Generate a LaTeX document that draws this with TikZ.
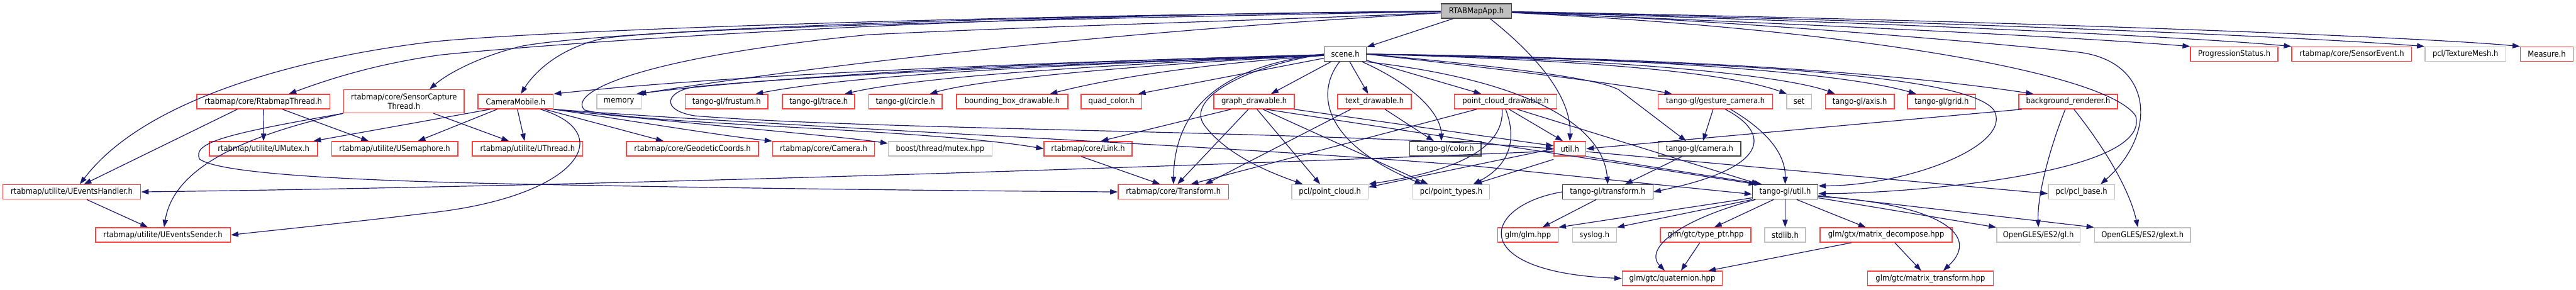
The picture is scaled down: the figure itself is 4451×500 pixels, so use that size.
\documentclass[tikz,border=0pt]{standalone}
\usepackage{xcolor}
\usepackage{fontspec}
\setmainfont{DejaVu Sans Condensed}
\usepackage{tikz}
\usetikzlibrary{arrows.meta}
\definecolor{edgeblue}{HTML}{191970}
\definecolor{boxred}{HTML}{FF4040}
\definecolor{boxgray}{HTML}{BFBFBF}
\definecolor{boxblack}{HTML}{404040}

\begin{document}
\begin{tikzpicture}[x=1pt, y=-1pt]
  \tikzset{
    file/.style={rectangle, line width=1.6pt, minimum height=25pt, inner sep=0pt, align=center, fill=white, font=\fontsize{14}{16}\selectfont},
    redfile/.style={file, draw=boxred},
    grayfile/.style={file, draw=boxgray},
    blackfile/.style={file, draw=boxblack},
    dep/.style={draw=edgeblue, line width=1.3pt, -{Triangle[length=13pt, width=9pt]}}
  }
  \useasboundingbox (0,0) rectangle (4451,500);
  % row 0 and 1
  \node[blackfile, fill=boxgray, minimum width=122pt] (app) at (2551,19) {RTABMapApp.h};
  \node[blackfile, minimum width=73pt] (scene) at (2324.5,93.5) {scene.h};
  \node[redfile, minimum width=151pt] (progress) at (3860.5,93.5) {ProgressionStatus.h};
  \node[redfile, minimum width=207pt] (sensorevent) at (4063.5,93.5) {rtabmap/core/SensorEvent.h};
  \node[grayfile, minimum width=140pt] (texmesh) at (4260,93.5) {pcl/TextureMesh.h};
  \node[redfile, minimum width=91pt] (measure) at (4400.5,93.5) {Measure.h};
  % row 2
  \node[redfile, minimum width=230pt] (rtthread) at (455,175.5) {rtabmap/core/RtabmapThread.h};
  \node[redfile, minimum width=208pt, minimum height=40pt] (scthread) at (698,175) {rtabmap/core/SensorCapture\\Thread.h};
  \node[redfile, minimum width=130pt] (cammobile) at (891,175.5) {CameraMobile.h};
  \node[grayfile, minimum width=77pt] (memory) at (1069.5,175.5) {memory};
  \node[redfile, minimum width=143pt] (frustum) at (1255.5,175.5) {tango-gl/frustum.h};
  \node[redfile, minimum width=125pt] (trace) at (1414.5,175.5) {tango-gl/trace.h};
  \node[redfile, minimum width=127pt] (circle) at (1564.5,175.5) {tango-gl/circle.h};
  \node[redfile, minimum width=192pt] (bbox) at (1749,175.5) {bounding\_box\_drawable.h};
  \node[redfile, minimum width=105pt] (quad) at (1920.5,175.5) {quad\_color.h};
  \node[redfile, minimum width=139pt] (graph) at (2167,175.5) {graph\_drawable.h};
  \node[redfile, minimum width=127pt] (textd) at (2375,175.5) {text\_drawable.h};
  \node[redfile, minimum width=177pt] (pcd) at (2601.5,175.5) {point\_cloud\_drawable.h};
  \node[redfile, minimum width=198pt] (gesture) at (2964,175.5) {tango-gl/gesture\_camera.h};
  \node[grayfile, minimum width=43pt] (set) at (3108.5,175.5) {set};
  \node[redfile, minimum width=119pt] (axis) at (3213.5,175.5) {tango-gl/axis.h};
  \node[redfile, minimum width=118pt] (grid) at (3355,175.5) {tango-gl/grid.h};
  \node[redfile, minimum width=171pt] (bgrend) at (3573.5,175.5) {background\_renderer.h};
  % row 3
  \node[redfile, minimum width=187pt] (umutex) at (455.5,257) {rtabmap/utilite/UMutex.h};
  \node[redfile, minimum width=218pt] (usem) at (682,257) {rtabmap/utilite/USemaphore.h};
  \node[redfile, minimum width=191pt] (uthread) at (911.5,257) {rtabmap/utilite/UThread.h};
  \node[redfile, minimum width=228pt] (geo) at (1196.5,257) {rtabmap/core/GeodeticCoords.h};
  \node[redfile, minimum width=176pt] (camera) at (1423,257) {rtabmap/core/Camera.h};
  \node[grayfile, minimum width=179pt] (bmutex) at (1624.5,257) {boost/thread/mutex.hpp};
  \node[redfile, minimum width=152pt] (link) at (1880,257) {rtabmap/core/Link.h};
  \node[blackfile, minimum width=123pt] (color) at (2497.5,257) {tango-gl/color.h};
  \node[redfile, minimum width=55pt] (util) at (2712.5,257) {util.h};
  \node[blackfile, minimum width=143pt] (tcamera) at (2936.5,257) {tango-gl/camera.h};
  % row 4
  \node[redfile, minimum width=238pt] (uevh) at (124,331.5) {rtabmap/utilite/UEventsHandler.h};
  \node[redfile, minimum width=191pt] (transform) at (2027.5,331.5) {rtabmap/core/Transform.h};
  \node[grayfile, minimum width=132pt] (pcloud) at (2298,331.5) {pcl/point\_cloud.h};
  \node[grayfile, minimum width=133pt] (ptypes) at (2507.5,331.5) {pcl/point\_types.h};
  \node[blackfile, minimum width=156pt] (ttransform) at (2778,331.5) {tango-gl/transform.h};
  \node[blackfile, minimum width=113pt] (tutil) at (3084.5,331.5) {tango-gl/util.h};
  \node[grayfile, minimum width=115pt] (pclbase) at (3596.5,331.5) {pcl/pcl\_base.h};
  % row 5 and 6
  \node[redfile, minimum width=233pt] (uevs) at (281.5,406) {rtabmap/utilite/UEventsSender.h};
  \node[redfile, minimum width=104pt] (glm) at (2640,406) {glm/glm.hpp};
  \node[grayfile, minimum width=76pt] (syslog) at (2755,406) {syslog.h};
  \node[redfile, minimum width=156pt] (typeptr) at (2947,406) {glm/gtc/type\_ptr.hpp};
  \node[grayfile, minimum width=71pt] (stdlib) at (3084.5,406) {stdlib.h};
  \node[redfile, minimum width=228pt] (mdecomp) at (3259,406) {glm/gtx/matrix\_decompose.hpp};
  \node[grayfile, minimum width=144pt] (gles) at (3522,406) {OpenGLES/ES2/gl.h};
  \node[grayfile, minimum width=166pt] (glext) at (3702,406) {OpenGLES/ES2/glext.h};
  \node[redfile, minimum width=173pt] (quat) at (2889.5,481) {glm/gtc/quaternion.hpp};
  \node[redfile, minimum width=217pt] (mtrans) at (3335.5,481) {glm/gtc/matrix\_transform.hpp};

  % RTABMapApp.h
  \draw[dep] (app) -- (scene);
  \draw[dep] ([xshift=-38pt]app.south east) .. controls (2660,100) and (2715,170) .. (util.north);
  \draw[dep] (app) .. controls (1600,28) and (900,55) .. (740,73) .. controls (520,100) and (250,170) .. ([xshift=14pt]uevh.north);
  \draw[dep] (app) .. controls (1600,25) and (900,80) .. (760,95) .. controls (640,112) and (560,140) .. ([xshift=44pt]rtthread.north);
  \draw[dep] (app) .. controls (1500,30) and (1000,60) .. (900,80) .. controls (820,100) and (770,130) .. ([xshift=44pt]scthread.north);
  \draw[dep] (app) .. controls (1500,38) and (1100,55) .. (1040,67) .. controls (960,85) and (920,130) .. ([xshift=9pt]cammobile.north);
  \draw[dep] (app) .. controls (2000,50) and (1500,100) .. ([xshift=34pt]memory.north);
  \draw[dep] (app) .. controls (2200,35) and (1800,45) .. (1500,60) .. controls (1100,100) and (980,160) .. (1010,190) .. controls (1100,215) and (1600,222) .. (link.west);
  \draw[dep] (app) .. controls (3000,35) and (3450,75) .. (3590,90) .. controls (3720,105) and (3730,230) .. ([xshift=33pt]pclbase.north);
  \draw[dep] (app) .. controls (3200,50) and (3640,125) .. (3690,200) .. controls (3720,300) and (3300,334) .. ([yshift=-3pt]tutil.east);
  \draw[dep] (app) .. controls (3200,45) and (3600,65) .. (progress.north west);
  \draw[dep] (app) .. controls (3300,40) and (3800,65) .. (sensorevent.north west);
  \draw[dep] (app) .. controls (3400,38) and (4000,65) .. (texmesh.north west);
  \draw[dep] (app) .. controls (3500,36) and (4200,65) .. (measure.north west);

  % scene.h
  \draw[dep] (scene) .. controls (1900,105) and (1300,125) .. (cammobile.north east);
  \draw[dep] (scene) .. controls (1900,105) and (1400,125) .. ([xshift=30pt]memory.north);
  \draw[dep] (scene) .. controls (1900,110) and (1500,125) .. ([xshift=50pt]frustum.north);
  \draw[dep] (scene) .. controls (1950,110) and (1600,130) .. ([xshift=45pt]trace.north);
  \draw[dep] (scene) .. controls (2000,110) and (1700,135) .. ([xshift=42pt]circle.north);
  \draw[dep] (scene) .. controls (2050,112) and (1900,140) .. ([xshift=65pt]bbox.north);
  \draw[dep] (scene) -- ([xshift=46pt]quad.north);
  \draw[dep] (scene) -- ([xshift=29pt]graph.north);
  \draw[dep] (scene) -- ([xshift=-11pt]textd.north);
  \draw[dep] (scene) -- ([xshift=-42pt]pcd.north);
  \draw[dep] ([xshift=-8pt]scene.south east) .. controls (2450,150) and (2490,200) .. ([xshift=-7pt]color.north);
  \draw[dep] (scene.west) .. controls (2150,115) and (2050,170) .. (2080,215) .. controls (2120,270) and (2200,300) .. ([xshift=-47pt]pcloud.north);
  \draw[dep] (scene.west) .. controls (2150,110) and (2030,160) .. (transform.north);
  \draw[dep] ([xshift=-10pt]scene.south) .. controls (2280,150) and (2270,240) .. ([xshift=-50pt]ptypes.north);
  \draw[dep] (scene.south east) .. controls (2650,140) and (2770,220) .. (ttransform.north);
  \draw[dep] (scene.east) .. controls (2600,115) and (2760,135) .. (2797,155) -- ([xshift=-23pt]tcamera.north);
  \draw[dep] (scene.east) .. controls (2600,120) and (2800,145) .. ([xshift=-75pt]gesture.north);
  \draw[dep] (scene.east) .. controls (2800,105) and (3000,130) .. ([xshift=-21pt]set.north);
  \draw[dep] (scene.east) .. controls (2850,102) and (3100,135) .. ([xshift=-43pt]axis.north);
  \draw[dep] (scene.east) .. controls (2900,100) and (3200,130) .. ([xshift=-44pt]grid.north);
  \draw[dep] (scene.east) .. controls (2950,100) and (3300,130) .. ([xshift=-60pt]bgrend.north);
  \draw[dep] (scene.east) .. controls (3000,105) and (3400,130) .. (3445,190) .. controls (3480,250) and (3300,320) .. ([yshift=-3pt]tutil.north east);
  \draw[dep] (scene) .. controls (1900,108) and (1400,130) .. (1200,150) .. controls (1150,158) and (1140,190) .. (1200,200) .. controls (1500,225) and (2300,226) .. (util.west);

  % rtabmap threads
  \draw[dep] ([xshift=-45pt]rtthread.south) -- ([xshift=21pt]uevh.north);
  \draw[dep] (rtthread) -- (umutex);
  \draw[dep] ([xshift=33pt]rtthread.south) -- ([xshift=-45pt]usem.north);
  \draw[dep] (scthread.south west) .. controls (420,235) and (300,290) .. ([xshift=2pt]uevs.north);
  \draw[dep] (scthread.south west) .. controls (400,230) and (330,245) .. (345,275) .. controls (380,300) and (600,312) .. (900,318) .. controls (1300,326) and (1700,330) .. (transform.west);
  \draw[dep] ([xshift=51pt]scthread.south) -- ([xshift=-32pt]uthread.north);
  \draw[dep] ([xshift=26pt]uevh.south) -- ([xshift=-26pt]uevs.north);

  % CameraMobile.h
  \draw[dep] ([xshift=-44pt]cammobile.south) -- ([xshift=86pt]umutex.north);
  \draw[dep] ([xshift=-32pt]cammobile.south) -- ([xshift=40pt]usem.north);
  \draw[dep] ([xshift=3pt]cammobile.south) -- ([xshift=-5pt]uthread.north);
  \draw[dep] ([xshift=43pt]cammobile.south) .. controls (1070,230) and (1000,340) .. (740,368) .. controls (600,385) and (450,400) .. (uevs.east);
  \draw[dep] ([xshift=50pt]cammobile.south) -- ([xshift=-50pt]geo.north);
  \draw[dep] (cammobile.south east) .. controls (1100,210) and (1250,235) .. (camera.north west);
  \draw[dep] (cammobile.south east) .. controls (1150,210) and (1450,235) .. ([yshift=-4pt]bmutex.north west);
  \draw[dep] (cammobile.south east) .. controls (1400,222) and (2100,250) .. (2550,287) -- ([yshift=-4pt]tutil.west);
  \draw[dep] ([xshift=-12pt]link.south) -- ([xshift=-23pt]transform.north);

  % drawables
  \draw[dep] ([xshift=-40pt]graph.south) -- ([xshift=22pt]link.north);
  \draw[dep] ([xshift=-10pt]graph.south) -- ([xshift=7pt]transform.north);
  \draw[dep] ([xshift=5pt]graph.south) -- ([xshift=-17pt]pcloud.north);
  \draw[dep] ([xshift=15pt]graph.south) -- ([xshift=-40pt]ptypes.north);
  \draw[dep] ([xshift=69pt]graph.south) -- ([yshift=5pt]util.west);
  \draw[dep] ([xshift=20pt]graph.south) -- ([xshift=-50pt]tutil.north);
  \draw[dep] ([xshift=18pt]textd.south) -- ([xshift=-20pt]color.north);
  \draw[dep] ([xshift=-41pt]textd.south) -- ([xshift=55pt]transform.north);
  \draw[dep] ([xshift=-50pt]pcd.south) -- ([xshift=30pt]transform.north);
  \draw[dep] ([xshift=6pt]pcd.south) -- ([xshift=-12pt]util.north);
  \draw[dep] ([xshift=-6pt]pcd.south) .. controls (2600,270) and (2480,300) .. (pcloud.north east);
  \draw[dep] (pcd.south) .. controls (2625,250) and (2600,290) .. ([xshift=38pt]ptypes.north);
  \draw[dep] ([xshift=20pt]pcd.south) -- ([xshift=-45pt]tutil.north);

  % util.h
  \draw[dep] (util.west) -- ([yshift=-5pt]pcloud.north east);
  \draw[dep] ([yshift=-5pt]util.south west) -- ([xshift=40pt]ptypes.north);
  \draw[dep] (util.south east) -- ([xshift=-40pt]tutil.north);
  \draw[dep] ([yshift=-5pt]util.east) -- ([yshift=-3pt]pclbase.west);
  \draw[dep] ([yshift=-4pt]util.west) .. controls (2000,290) and (1000,322) .. (uevh.east);
  \draw[dep] ([xshift=-80pt]bgrend.south) -- (util.east);
  \draw[dep] ([xshift=-5pt]bgrend.south) .. controls (3540,260) and (3520,340) .. (gles.north);
  \draw[dep] ([xshift=10pt]bgrend.south) .. controls (3640,260) and (3680,330) .. ([xshift=-8pt]glext.north);

  % tango-gl
  \draw[dep] ([xshift=-4pt]gesture.south) -- ([xshift=6pt]tcamera.north);
  \draw[dep] ([xshift=17pt]gesture.south) .. controls (3060,230) and (3060,290) .. (ttransform.east);
  \draw[dep] ([xshift=26pt]gesture.south) .. controls (3060,230) and (3085,270) .. (tutil.north);
  \draw[dep] ([xshift=-30pt]tcamera.south) -- ([xshift=30pt]ttransform.north);
  \draw[dep] ([xshift=-20pt]ttransform.south) -- ([xshift=25pt]glm.north);
  \draw[dep] (ttransform.west) .. controls (2560,355) and (2530,470) .. (quat.west);
  \draw[dep] ([yshift=3pt]tutil.south west) -- (glm.north east);
  \draw[dep] (tutil.south west) -- (syslog.north east);
  \draw[dep] ([xshift=6pt]tutil.south west) .. controls (2900,380) and (2840,430) .. ([xshift=-13pt]quat.north);
  \draw[dep] ([xshift=-20pt]tutil.south) -- ([xshift=15pt]typeptr.north);
  \draw[dep] (tutil) -- (stdlib);
  \draw[dep] ([xshift=20pt]tutil.south) -- ([xshift=-35pt]mdecomp.north);
  \draw[dep] ([yshift=3pt]tutil.south east) -- (gles.north west);
  \draw[dep] ([yshift=7pt]tutil.south east) -- (glext.north west);
  \draw[dep] ([yshift=-8pt]tutil.east) .. controls (3330,350) and (3430,400) .. ([xshift=22pt]mtrans.north);
  \draw[dep] ([xshift=-10pt]typeptr.south) -- ([xshift=15pt]quat.north);
  \draw[dep] ([xshift=-60pt]mdecomp.south) -- ([xshift=62pt]quat.north);
  \draw[dep] ([xshift=15pt]mdecomp.south) -- ([xshift=-16pt]mtrans.north);
\end{tikzpicture}
\end{document}
